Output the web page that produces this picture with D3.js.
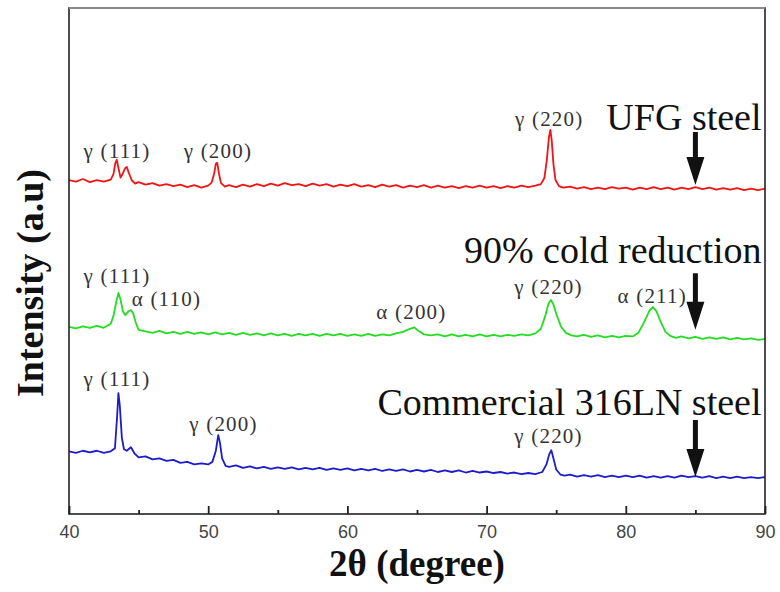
<!DOCTYPE html>
<html lang="en">
<head>
<meta charset="UTF-8">
<title>XRD patterns of 316LN steel</title>
<script src="https://d3js.org/d3.v7.min.js"></script>
<style>
  body { margin: 0; background: #fff; }
</style>
</head>
<body>
<script>
// 2theta (degree), intensity (a.u., stacked)
const ufg = [
  [40,660],[40.5,657],[41,662],[41.5,656],[42,660],[42.5,657],[43,661],[43.2,672],[43.33,694],[43.43,700],[43.55,684],[43.7,665],[43.85,672],[44.05,684],[44.15,686],[44.3,674],[44.5,660],[44.75,653],[45,656],[45.5,651],[46,654],[46.5,649],[47,652],[47.5,648],[48,651],[48.5,646],[49,650],[49.5,645],[50,649],[50.25,655],[50.42,672],[50.55,692],[50.65,694],[50.78,672],[50.92,654],[51.2,647],[51.5,650],[52,646],[52.5,651],[53,647],[53.5,652],[54,648],[54.5,653],[55,649],[55.5,654],[56,650],[56.5,652],[57,648],[57.5,653],[58,649],[58.5,652],[59,647],[59.5,651],[60,648],[60.5,652],[61,647],[61.5,650],[62,646],[62.5,651],[63,647],[63.5,650],[64,645],[64.5,649],[65,646],[65.5,650],[66,645],[66.5,649],[67,645],[67.5,648],[68,644],[68.5,648],[69,645],[69.5,649],[70,645],[70.5,648],[71,644],[71.5,648],[72,645],[72.5,649],[73,646],[73.5,649],[73.9,652],[74.15,664],[74.32,698],[74.48,745],[74.58,759],[74.68,738],[74.8,692],[74.95,660],[75.2,648],[75.5,645],[76,647],[76.5,643],[77,646],[77.5,642],[78,645],[78.5,642],[79,646],[79.5,643],[80,645],[80.5,641],[81,645],[81.5,642],[82,646],[82.5,642],[83,645],[83.5,641],[84,645],[84.5,642],[85,646],[85.5,642],[86,645],[86.5,641],[87,644],[87.5,641],[88,644],[88.5,640],[89,643],[89.5,640],[90,643]
];
const cold = [
  [40,370],[40.5,367],[41,371],[41.5,368],[42,372],[42.5,368],[43,376],[43.2,392],[43.4,420],[43.55,437],[43.7,424],[43.88,400],[44.05,393],[44.25,400],[44.45,403],[44.6,397],[44.8,378],[45,364],[45.5,361],[46,358],[46.5,362],[47,357],[47.5,360],[48,356],[48.5,360],[49,356],[49.5,359],[50,355],[50.5,359],[51,355],[51.5,358],[52,354],[52.5,358],[53,354],[53.5,357],[54,353],[54.5,357],[55,353],[55.5,356],[56,352],[56.5,356],[57,353],[57.5,356],[58,352],[58.5,356],[59,353],[59.5,356],[60,352],[60.5,355],[61,352],[61.5,356],[62,352],[62.5,355],[63,353],[63.5,357],[64,360],[64.4,365],[64.8,369],[65.1,362],[65.5,355],[66,353],[66.5,355],[67,351],[67.5,355],[68,351],[68.5,354],[69,351],[69.5,355],[70,351],[70.5,354],[71,351],[71.5,354],[72,352],[72.5,355],[73,353],[73.5,357],[73.9,366],[74.2,390],[74.45,416],[74.62,423],[74.8,414],[75.05,392],[75.35,370],[75.7,358],[76.1,353],[76.5,351],[77,354],[77.5,350],[78,353],[78.5,349],[79,352],[79.5,349],[80,352],[80.5,351],[80.9,358],[81.3,378],[81.7,402],[81.95,409],[82.2,401],[82.5,380],[82.85,360],[83.2,352],[83.6,348],[84,351],[84.5,347],[85,350],[85.5,346],[86,349],[86.5,346],[87,349],[87.5,345],[88,348],[88.5,345],[89,347],[89.5,344],[90,346]
];
const comm = [
  [40,124],[40.5,121],[41,125],[41.5,122],[42,125],[42.5,121],[43,124],[43.3,130],[43.45,190],[43.55,239],[43.65,214],[43.8,150],[43.95,128],[44.15,125],[44.45,132],[44.7,120],[45,112],[45.5,114],[46,108],[46.5,110],[47,105],[47.5,107],[48,101],[48.5,103],[49,98],[49.5,100],[50,98],[50.3,103],[50.55,125],[50.72,156],[50.85,140],[51,110],[51.25,95],[51.5,93],[52,96],[52.5,91],[53,94],[53.5,90],[54,93],[54.5,89],[55,92],[55.5,89],[56,92],[56.5,88],[57,91],[57.5,88],[58,91],[58.5,87],[59,90],[59.5,87],[60,90],[60.5,86],[61,89],[61.5,86],[62,89],[62.5,85],[63,88],[63.5,85],[64,88],[64.5,84],[65,87],[65.5,84],[66,87],[66.5,83],[67,86],[67.5,83],[68,86],[68.5,82],[69,85],[69.5,82],[70,84],[70.5,81],[71,83],[71.5,80],[72,82],[72.5,79],[73,81],[73.5,79],[74,83],[74.3,98],[74.5,118],[74.65,126],[74.8,110],[75,88],[75.3,78],[75.6,76],[76,78],[76.5,74],[77,77],[77.5,74],[78,77],[78.5,73],[79,76],[79.5,73],[80,76],[80.5,73],[81,76],[81.5,72],[82,75],[82.5,72],[83,75],[83.5,72],[84,76],[84.5,73],[85,75],[85.5,72],[86,75],[86.5,71],[87,74],[87.5,71],[88,74],[88.5,71],[89,73],[89.5,71],[90,73]
];

const xTicks = [40, 50, 60, 70, 80, 90];
const xMinor = [45, 55, 65, 75, 85];

const series = [
  { name: "UFG steel", color: "#f01414", data: ufg, labelV: 759 },
  { name: "90% cold reduction", color: "#22dd22", data: cold, labelV: 496 },
  { name: "Commercial 316LN steel", color: "#1c1ccc", data: comm, labelV: 196 }
];

// peak indexing: [text, 2theta, intensity]
const peaks = [
  ["γ (111)", 43.45, 703], ["γ (200)", 50.7, 703], ["γ (220)", 74.5, 767],
  ["γ (111)", 43.45, 456], ["α (110)", 47.0, 411], ["α (200)", 64.6, 385],
  ["γ (220)", 74.45, 435], ["α (211)", 81.9, 417],
  ["γ (111)", 43.45, 253], ["γ (200)", 51.1, 164], ["γ (220)", 74.45, 140]
];

// arrows at 85 deg: [top, tip]
const arrows = [[755, 650], [476, 364], [186, 73]];

const width = 780, height = 592;
const margin = { top: 8, right: 15, bottom: 78, left: 69 };

const svg = d3.select("body").append("svg")
  .attr("width", width)
  .attr("height", height);

const x = d3.scaleLinear().domain([40, 90]).range([margin.left, width - margin.right]);
const y = d3.scaleLinear().domain([0, 1000]).range([height - margin.bottom, margin.top]);

const line = d3.line().x(d => x(d[0])).y(d => y(d[1]));

svg.selectAll(".trace")
  .data(series)
  .enter().append("path")
  .attr("class", "trace")
  .attr("d", d => line(d.data))
  .attr("fill", "none")
  .attr("stroke", d => d.color)
  .attr("stroke-width", 1.8)
  .attr("stroke-linejoin", "round");

// peak labels
svg.selectAll(".peak")
  .data(peaks)
  .enter().append("text")
  .attr("class", "peak")
  .attr("x", d => x(d[1]))
  .attr("y", d => y(d[2]))
  .attr("text-anchor", "middle")
  .style("font-family", "'Liberation Serif', 'Times New Roman', serif")
  .style("font-size", "21px")
  .style("letter-spacing", "1.2px")
  .style("fill", "#333")
  .text(d => d[0]);

// sample labels
svg.selectAll(".sample")
  .data(series)
  .enter().append("text")
  .attr("class", "sample")
  .attr("x", x(89.75))
  .attr("y", d => y(d.labelV))
  .attr("text-anchor", "end")
  .style("font-family", "'Liberation Serif', 'Times New Roman', serif")
  .style("font-size", "38px")
  .style("fill", "#111")
  .text(d => d.name);

// arrows
svg.selectAll(".arrow")
  .data(arrows)
  .enter().append("path")
  .attr("class", "arrow")
  .attr("d", d => {
    const cx = x(85), t = y(d[0]), p = y(d[1]), h = p - 28;
    return `M${cx - 2.5},${t}L${cx + 2.5},${t}L${cx + 2.5},${h}L${cx + 9},${h}L${cx},${p}L${cx - 9},${h}L${cx - 2.5},${h}Z`;
  })
  .attr("fill", "#111");

// frame
const x0 = margin.left, x1 = width - margin.right;
const y0 = margin.top, y1 = height - margin.bottom;
svg.append("rect")
  .attr("x", x0).attr("y", y0)
  .attr("width", x1 - x0).attr("height", y1 - y0)
  .attr("fill", "none")
  .attr("stroke", "#222")
  .attr("stroke-width", 1.6);
svg.append("line")
  .attr("x1", x0).attr("x2", x1).attr("y1", y0).attr("y2", y0)
  .attr("stroke", "#888").attr("stroke-width", 2);

// x axis, ticks pointing inward
const xAxis = svg.append("g")
  .attr("transform", `translate(0,${y1})`)
  .call(d3.axisBottom(x).tickValues(xTicks).tickSize(-8).tickSizeOuter(0).tickPadding(11));
xAxis.select(".domain").remove();
xAxis.selectAll(".tick line").attr("stroke", "#222").attr("stroke-width", 1.8);
xAxis.selectAll(".tick text")
  .style("font-family", "'Liberation Sans', Arial, sans-serif")
  .style("font-size", "18px")
  .style("fill", "#444");

const xMinorAxis = svg.append("g")
  .attr("transform", `translate(0,${y1})`)
  .call(d3.axisBottom(x).tickValues(xMinor).tickSize(-4).tickSizeOuter(0).tickFormat(""));
xMinorAxis.select(".domain").remove();
xMinorAxis.selectAll(".tick line").attr("stroke", "#222").attr("stroke-width", 1.8);

// axis titles
svg.append("text")
  .attr("x", (x0 + x1) / 2)
  .attr("y", 576)
  .attr("text-anchor", "middle")
  .style("font-family", "'Liberation Serif', 'Times New Roman', serif")
  .style("font-weight", "bold")
  .style("font-size", "37px")
  .style("fill", "#111")
  .text("2θ (degree)");

svg.append("text")
  .attr("transform", "translate(43,283) rotate(-90)")
  .attr("text-anchor", "middle")
  .style("font-family", "'Liberation Serif', 'Times New Roman', serif")
  .style("font-weight", "bold")
  .style("font-size", "38px")
  .style("fill", "#111")
  .text("Intensity (a.u)");
</script>
</body>
</html>
